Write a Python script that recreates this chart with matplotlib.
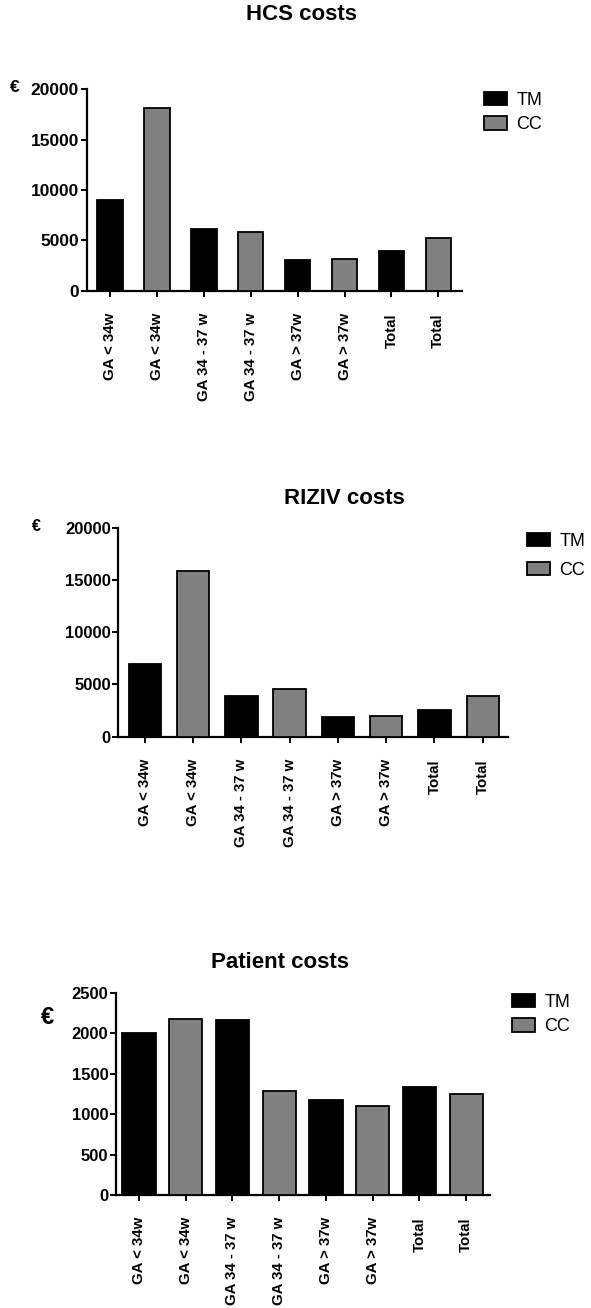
import matplotlib.pyplot as plt
from matplotlib.patches import Patch

categories = ['GA < 34w', 'GA < 34w', 'GA 34 - 37 w', 'GA 34 - 37 w',
              'GA > 37w', 'GA > 37w', 'Total', 'Total']
groups = ['TM', 'CC', 'TM', 'CC', 'TM', 'CC', 'TM', 'CC']

hcs_costs = [9000, 18100, 6100, 5830, 3080, 3150, 3970, 5200]
riziv_costs = [7000, 15900, 3870, 4540, 1890, 1990, 2560, 3900]
patient_costs = [2000, 2180, 2160, 1290, 1170, 1100, 1340, 1250]

big_ticks = [0, 5000, 10000, 15000, 20000]
small_ticks = [0, 500, 1000, 1500, 2000, 2500]

colors = {'TM': '#000000', 'CC': '#808080'}

W, H = 591, 1308
plt.rcParams['font.family'] = ['Liberation Sans', 'DejaVu Sans']

fig = plt.figure(figsize=(W / 100, H / 100), dpi=100)


def px_rect(left, right, top, bottom):
    # pixel box of the plotting area -> figure fraction
    return [left / W, 1 - bottom / H, (right - left) / W, (bottom - top) / H]


def panel(rect, values, ticks, xlim, width, ytick_size):
    ax = fig.add_axes(rect)
    x = range(len(values))
    ax.bar(x, values, width=width, color=[colors[g] for g in groups],
           edgecolor='black', linewidth=1.3, zorder=3)
    ax.set_xlim(*xlim)
    ax.set_ylim(ticks[0], ticks[-1])
    ax.set_yticks(ticks)
    ax.set_xticks(list(x))
    ax.set_xticklabels(categories, rotation=90, va='top', ha='center',
                       fontsize=10.8, fontweight='bold')
    for lab in ax.get_yticklabels():
        lab.set_fontsize(ytick_size)
        lab.set_fontweight('bold')
    for s in ['top', 'right']:
        ax.spines[s].set_visible(False)
    for s in ['left', 'bottom']:
        ax.spines[s].set_linewidth(1.6)
    ax.tick_params(axis='y', length=4, width=1.4, pad=1.5)
    ax.tick_params(axis='x', length=4, width=1.4, pad=12)
    return ax


def legend(ax, x, y, spacing):
    handles = [Patch(facecolor=colors['TM'], edgecolor='black', linewidth=1.3, label='TM'),
               Patch(facecolor=colors['CC'], edgecolor='black', linewidth=1.3, label='CC')]
    ax.legend(handles=handles, loc='upper left', bbox_to_anchor=(x / W, 1 - y / H),
              bbox_transform=fig.transFigure, frameon=False, fontsize=13,
              borderpad=0, borderaxespad=0, handlelength=1.25, handleheight=0.75,
              handletextpad=0.55, labelspacing=spacing)


# HCS costs
ax1 = panel(px_rect(86.7, 461.7, 89.3, 290.7), hcs_costs, big_ticks,
            (-0.5, 7.5), 0.54, 12.5)
fig.text(301 / W, 1 - 15 / H, 'HCS costs', ha='center', va='center',
         fontsize=16, fontweight='bold')
fig.text(15 / W, 1 - 88 / H, '€', ha='center', va='center',
         fontsize=12.5, fontweight='bold')
legend(ax1, 484, 92, 0.4)

# RIZIV costs
ax2 = panel(px_rect(118.3, 508.3, 527.7, 736.7), riziv_costs, big_ticks,
            (-0.55, 7.53), 0.67, 12)
fig.text(344 / W, 1 - 498 / H, 'RIZIV costs', ha='center', va='center',
         fontsize=16, fontweight='bold')
fig.text(36 / W, 1 - 526 / H, '€', ha='center', va='center',
         fontsize=11.5, fontweight='bold')
legend(ax2, 527, 533, 0.65)

# Patient costs
ax3 = panel(px_rect(116, 490, 992.7, 1195), patient_costs, small_ticks,
            (-0.49, 7.51), 0.71, 12)
fig.text(280 / W, 1 - 962 / H, 'Patient costs', ha='center', va='center',
         fontsize=16, fontweight='bold')
fig.text(47 / W, 1 - 1017 / H, '€', ha='center', va='center',
         fontsize=17, fontweight='bold')
legend(ax3, 512, 994, 0.4)

fig.savefig('out.png', dpi=100)
